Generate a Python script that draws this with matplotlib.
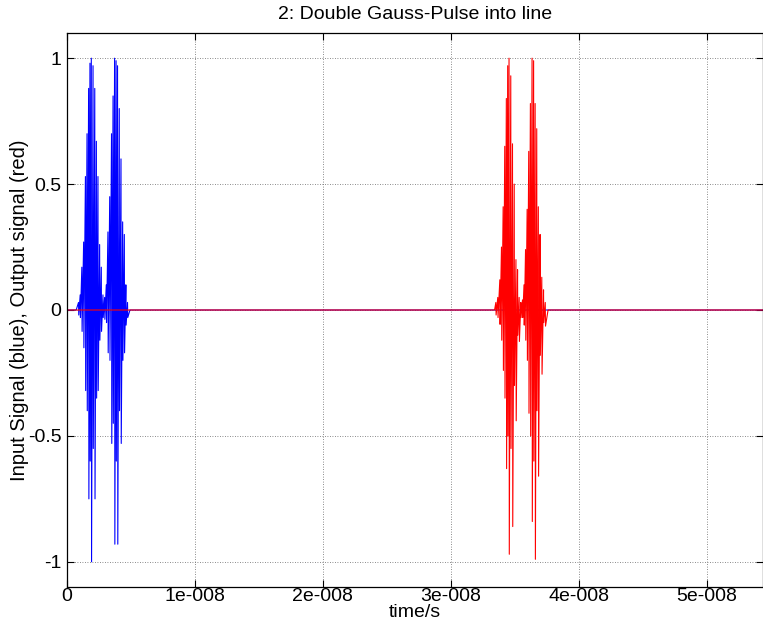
import matplotlib
matplotlib.use("Agg")
import matplotlib.pyplot as plt
import numpy as np

plt.rcParams['font.family'] = ['Liberation Sans', 'DejaVu Sans']

# spike positions (ns) with positive / negative tip values
t_in = [0.70, 0.90, 1.03, 1.16, 1.30, 1.44, 1.565, 1.69, 1.795, 1.90,
        2.035, 2.17, 2.295, 2.42, 2.55, 2.68, 2.81, 2.94,
        3.07, 3.20, 3.34, 3.48, 3.60, 3.72, 3.835, 3.95,
        4.085, 4.22, 4.35, 4.48, 4.60, 4.73, 4.92]
pos_in = [0.0, 0.03, 0.06, 0.17, 0.27, 0.53, 0.70, 0.88, 0.98, 1.0,
          0.97, 0.88, 0.67, 0.53, 0.26, 0.17, 0.06, 0.05,
          0.10, 0.31, 0.45, 0.70, 0.85, 1.0, 0.99, 0.97,
          0.80, 0.60, 0.35, 0.30, 0.10, 0.03, 0.0]
neg_in = [0.0, -0.02, -0.03, -0.085, -0.15, -0.32, -0.40, -0.75, -0.60, -1.0,
          -0.55, -0.75, -0.35, -0.32, -0.12, -0.085, -0.03, -0.037,
          -0.05, -0.17, -0.20, -0.53, -0.45, -0.93, -0.60, -0.93,
          -0.40, -0.53, -0.20, -0.17, -0.06, -0.03, 0.0]

t_out = [33.40, 33.52, 33.67, 33.83, 33.96, 34.09, 34.215, 34.34, 34.445, 34.55,
         34.685, 34.82, 34.955, 35.09, 35.215, 35.34, 35.47, 35.60,
         35.72, 35.84, 35.965, 36.09, 36.22, 36.35, 36.47, 36.59,
         36.715, 36.84, 36.975, 37.11, 37.245, 37.38, 37.60]
pos_out = [0.0, 0.03, 0.05, 0.12, 0.25, 0.41, 0.65, 0.84, 0.97, 1.0,
           0.93, 0.66, 0.50, 0.20, 0.16, 0.05, 0.03, 0.04,
           0.10, 0.24, 0.40, 0.63, 0.82, 1.0, 0.99, 0.82,
           0.72, 0.41, 0.30, 0.13, 0.08, 0.03, 0.0]
neg_out = [0.0, -0.02, -0.03, -0.057, -0.12, -0.24, -0.35, -0.63, -0.50, -0.97,
           -0.55, -0.86, -0.30, -0.44, -0.10, -0.125, -0.03, -0.03,
           -0.06, -0.12, -0.20, -0.41, -0.50, -0.84, -0.60, -0.99,
           -0.40, -0.66, -0.18, -0.255, -0.05, -0.064, 0.0]

t_end = 55.0  # ns, both traces run on at zero

xticks = [0, 1e-8, 2e-8, 3e-8, 4e-8, 5e-8]
xticklabels = ['0', '1e-008', '2e-008', '3e-008', '4e-008', '5e-008']
yticks = [-1, -0.5, 0, 0.5, 1]
yticklabels = ['-1', '-0.5', '0', '0.5', '1']


def trace(t, p, n):
    # each spike: positive tip then negative tip one sample later
    tt = [0.0]
    vv = [0.0]
    for ti, pi, ni in zip(t, p, n):
        tt += [ti, ti + 0.02]
        vv += [pi, ni]
    tt.append(t_end)
    vv.append(0.0)
    return np.array(tt) * 1e-9, np.array(vv)


fig = plt.figure(figsize=(7.63, 6.23), dpi=100)
ax = fig.add_axes([67 / 763, 36 / 623, 1 - 67 / 763, 554 / 623])

x1, y1 = trace(t_in, pos_in, neg_in)
x2, y2 = trace(t_out, pos_out, neg_out)
ax.plot(x1, y1, color='blue', lw=0.8)
ax.plot(x2, y2, color='red', lw=0.8)

ax.set_xlim(0, 5.44e-8)
ax.set_ylim(-1.1, 1.1)
ax.set_xticks(xticks)
ax.set_xticklabels(xticklabels)
ax.set_yticks(yticks)
ax.set_yticklabels(yticklabels)
ax.tick_params(direction='in', top=True, right=True, length=5, width=0.8,
               labelsize=14)
ax.tick_params(axis='x', pad=1)
ax.tick_params(axis='y', pad=4)
ax.grid(True, linestyle=(0, (1, 2)), color='0.4', lw=0.6)
for s in ax.spines.values():
    s.set_linewidth(0.9)

ax.set_title('2: Double Gauss-Pulse into line', fontsize=14, pad=10)
ax.set_xlabel('time/s', fontsize=14, labelpad=-1)
ax.set_ylabel('Input Signal (blue), Output signal (red)', fontsize=14.5, labelpad=-1)

fig.savefig('out.png', dpi=100)
